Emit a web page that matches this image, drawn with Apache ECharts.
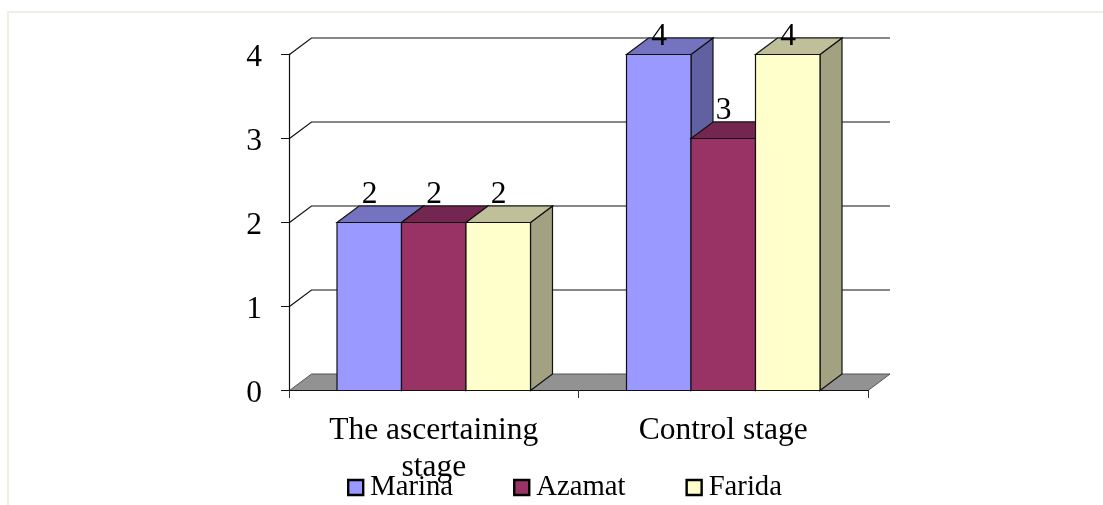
<!DOCTYPE html>
<html>
<head>
<meta charset="utf-8">
<style>html,body{margin:0;padding:0;background:#fff}#c{width:1103px;height:505px}</style>
<script src="https://cdn.jsdelivr.net/npm/echarts@6/dist/echarts.min.js"></script>
</head>
<body>
<div id="c"></div>
<script>
const categories = ['The ascertaining stage', 'Control stage'];
const marina = [2, 4];
const azamat = [2, 3];
const farida = [2, 4];
const yTicks = [0, 1, 2, 3, 4];
const seriesNames = ['Marina', 'Azamat', 'Farida'];
const seriesValues = [marina, azamat, farida];
const frontColors = ['#9999FF', '#993366', '#FFFFCC'];
const topColors = ['#7373BF', '#732650', '#BFBF99'];
const sideColors = ['#6161A2', '#612041', '#A2A282'];

const FONT = '"Liberation Serif","Times New Roman",serif';
const FS = 31.5;
const DX = 22, DY = -16.5, BAR_FRAC = 0.2228;
const line = { stroke: '#111', lineWidth: 1.2 };

function wallItem(params, api) {
  const p = api.coord([0, api.value(0)]);
  const band = api.size([1, 0])[0];
  const left = p[0] - band / 2;
  const right = left + band * 2;
  const y = Math.round(p[1]) + 0.5, x = Math.round(left) + 0.5;
  if (api.value(0) === 0) {
    return { type: 'polygon', z2: 1, shape: { points: [[x, y], [x + DX, y + DY], [right + DX, y + DY], [right, y]] },
      style: { fill: '#929292', stroke: '#555', lineWidth: 1 } };
  }
  return { type: 'polyline', z2: 1, shape: { points: [[x, y], [x + DX, y + DY], [right + DX, y + DY]] },
    style: { fill: null, stroke: '#111', lineWidth: 1.2 } };
}

function barRenderer(s) {
  return function (params, api) {
    const cx = api.coord([api.value(0), 0])[0];
    const band = api.size([1, 0])[0];
    const w = band * BAR_FRAC;
    const x0 = cx + (s - 1.5) * w;
    const x1 = cx + (s - 0.5) * w;
    const yBase = Math.round(api.coord([0, 0])[1]) + 0.5;
    const yTopAxis = api.coord([0, 4])[1];
    const y = Math.round(api.coord([0, api.value(1)])[1]) + 0.5;
    const baseline = Math.max(y - 11.5, yTopAxis - 1.5);
    return { type: 'group', children: [
      { type: 'polygon', z2: 10 + s, shape: { points: [[x1, y], [x1 + DX, y + DY], [x1 + DX, yBase + DY], [x1, yBase]] },
        style: Object.assign({ fill: sideColors[s] }, line) },
      { type: 'polygon', z2: 10 + s, shape: { points: [[x0, y], [x0 + DX, y + DY], [x1 + DX, y + DY], [x1, y]] },
        style: Object.assign({ fill: topColors[s] }, line) },
      { type: 'rect', z2: 10 + s, shape: { x: x0, y: y, width: x1 - x0, height: yBase - y },
        style: Object.assign({ fill: frontColors[s] }, line) },
      { type: 'text', z2: 50, x: (x0 + x1) / 2 + 0.3, y: baseline,
        style: { text: String(api.value(1)), font: FS + 'px ' + FONT, fill: '#000', align: 'center', verticalAlign: 'bottom', lineHeight: 32 } }
    ] };
  };
}

const chart = echarts.init(document.getElementById('c'), null, { renderer: 'canvas' });
chart.setOption({
  animation: false,
  backgroundColor: '#fff',
  grid: { left: 289, right: 235, top: 54, bottom: 115 },
  graphic: [
    { type: 'rect', silent: true, shape: { x: 7, y: 11, width: 1096, height: 2 }, style: { fill: '#F1EEE3' } },
    { type: 'rect', silent: true, shape: { x: 7, y: 11, width: 2, height: 494 }, style: { fill: '#F1EEE3' } }
  ],
  legend: {
    left: 342, top: 468, itemWidth: 15, itemHeight: 15, itemGap: 60, icon: 'rect',
    data: seriesNames,
    itemStyle: { borderColor: '#000', borderWidth: 2.4 },
    textStyle: { fontFamily: FONT, fontSize: 28.7, color: '#000', padding: [2, 0, 0, 2] },
    selectedMode: false
  },
  xAxis: {
    type: 'category', data: categories,
    axisLine: { lineStyle: { color: '#111', width: 1.2 } },
    axisTick: { show: true, length: 8, alignWithLabel: false, lineStyle: { color: '#333' } },
    axisLabel: { color: '#000', fontFamily: FONT, fontSize: FS, margin: 22, lineHeight: 37, interval: 0,
      formatter: v => v.replace('ascertaining ', 'ascertaining\n') },
    z: 20
  },
  yAxis: {
    type: 'value', min: 0, max: 4, interval: 1,
    axisLine: { show: true, lineStyle: { color: '#111', width: 1.2 } },
    axisTick: { show: true, length: 8, lineStyle: { color: '#111' } },
    axisLabel: { color: '#000', fontFamily: FONT, fontSize: FS, margin: 27, verticalAlign: 'top', lineHeight: 8 },
    splitLine: { show: false }
  },
  series: [
    { type: 'custom', name: 'wall', silent: true, z: 1, renderItem: wallItem, data: yTicks.map(v => [v]), encode: { y: 0 }, clip: false }
  ].concat(seriesNames.map((name, s) => ({
    type: 'custom', name: name, z: 2, clip: false, silent: true,
    itemStyle: { color: frontColors[s] },
    renderItem: barRenderer(s),
    encode: { x: 0, y: 1 },
    data: seriesValues[s].map((v, i) => [i, v])
  })))
});
</script>
</body>
</html>
